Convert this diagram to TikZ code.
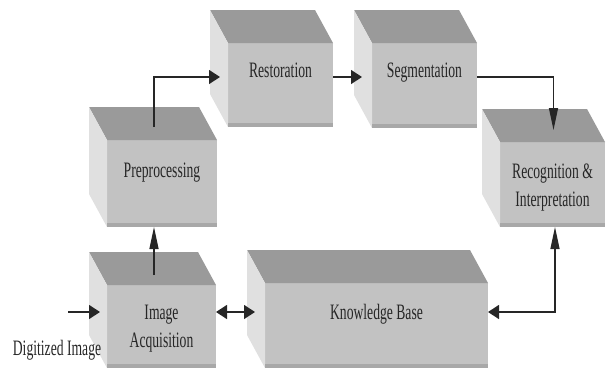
\documentclass[tikz,border=0pt]{standalone}
\usepackage{fontspec}
\setmainfont{Liberation Serif}
\usetikzlibrary{arrows.meta}

\definecolor{frontgray}{HTML}{C2C2C2}
\definecolor{topgray}{HTML}{9A9A9A}
\definecolor{sidegray}{HTML}{E0E0E0}
\definecolor{rimgray}{HTML}{A8A8A8}
\newcommand{\sqz}[1]{\scalebox{0.62}[1]{#1}}

\begin{document}
\begin{tikzpicture}[
    x=1pt, y=-1pt,
    cube/.style={fill=frontgray, inner sep=0pt, outer sep=0pt, minimum width=105pt, minimum height=85pt},
    topface/.style={fill=topgray},
    sideface/.style={fill=sidegray},
    lbl/.style={align=center, font=\fontsize{22}{28}\selectfont, text=black!85},
    hlink/.style={-{Triangle[length=11pt, width=14pt]}, line width=1.3pt, black!85},
    vlink/.style={-{Triangle[length=22pt, width=9pt]}, line width=1.3pt, black!85},
    hboth/.style={{Triangle[length=11pt, width=14pt]}-{Triangle[length=11pt, width=14pt]}, line width=1.3pt, black!85},
    vhboth/.style={{Triangle[length=22pt, width=9pt]}-{Triangle[length=11pt, width=14pt]}, line width=1.3pt, black!85}
]
\useasboundingbox (0,0) rectangle (606,368);

% front faces
\node[cube, minimum width=110pt, minimum height=87pt] (prep) at (162,183.5) {};
\node[cube, minimum width=109pt, minimum height=83pt] (acq) at (161.5,326.5) {};
\node[cube, minimum height=84pt] (rest) at (280.5,85) {};
\node[cube] (seg) at (424.5,85.5) {};
\node[cube] (recog) at (552.5,184.5) {};
\node[cube, minimum width=223pt] (know) at (376.5,325.5) {};

% top and side faces, dark rim at the bottom
\foreach \n in {prep,acq,rest,seg,recog,know} {
  \fill[topface] (\n.north west) -- (\n.north east) -- ++(-18,-33)
    -- ([shift={(-18,-33)}]\n.north west) -- cycle;
  \fill[sideface] (\n.north west) -- ([shift={(-18,-33)}]\n.north west)
    -- ([shift={(-18,-33)}]\n.south west) -- (\n.south west) -- cycle;
  \fill[rimgray] (\n.south west) rectangle ([yshift=4pt]\n.south east);
}

% labels
\node[lbl] (prep-t) at ([yshift=11pt]prep.center) {\sqz{Preprocessing}};
\node[lbl] (acq-t) at ([yshift=-2.5pt]acq.center) {\sqz{Image}\\\sqz{Acquisition}};
\node[lbl] (rest-t) at ([yshift=15pt]rest.center) {\sqz{Restoration}};
\node[lbl] (seg-t) at ([yshift=13pt]seg.center) {\sqz{Segmentation}};
\node[lbl] (recog-t) at ([yshift=-3pt]recog.center) {\sqz{Recognition \&}\\\sqz{Interpretation}};
\node[lbl] (know-t) at ([yshift=11.5pt]know.center) {\sqz{Knowledge Base}};
\node[lbl] (dig) at (57,350) {\sqz{Digitized Image}};

% connectors
\coordinate (feed) at (68,312);
\draw[hlink] (feed) -- ([shift={(-7,-14.5)}]acq.west);
\draw[hboth] ([yshift=14.5pt]acq.east) -- ([shift={(-10,-13.5)}]know.west);
\draw[vhboth] ([xshift=2.5pt]recog.south) |- ([yshift=13.5pt]know.east);
\draw[vlink] ([shift={(-7.5,-10)}]acq.north) -- ([xshift=-8pt]prep.south);
\draw[hlink] ([shift={(-8,-13)}]prep.north) |- ([shift={(-8,-8)}]rest.west);
\draw[hlink] ([yshift=8pt]rest.east) -- ([shift={(-10,-8.5)}]seg.west);
\draw[vlink] ([yshift=8.5pt]seg.east) -| ([shift={(1,-12)}]recog.north);
\end{tikzpicture}
\end{document}
